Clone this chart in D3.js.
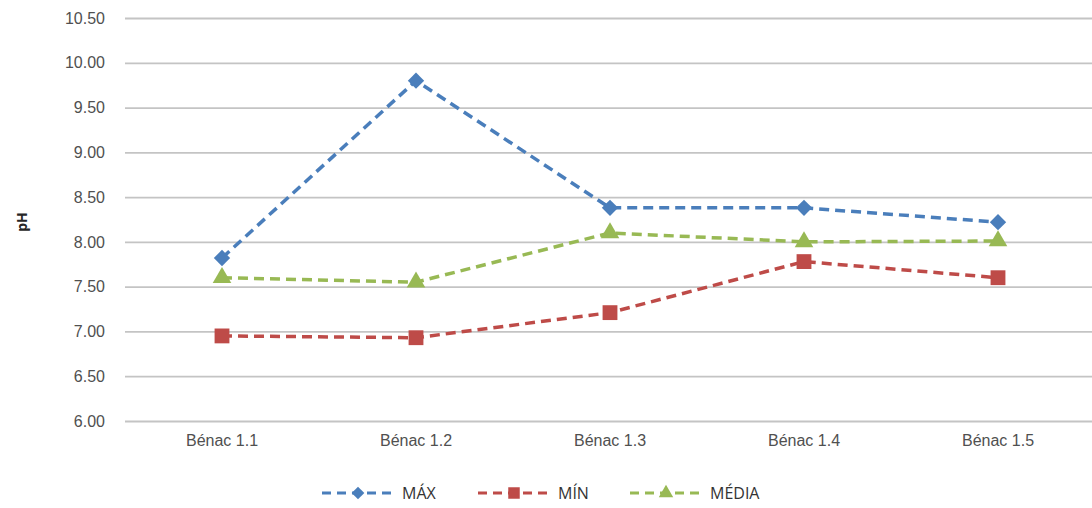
<!DOCTYPE html>
<html>
<head>
<meta charset="utf-8">
<script src="https://cdn.jsdelivr.net/npm/d3@7"></script>
<style>
  body { margin: 0; background: #fff; }
  svg { font-family: "Open Sans", "Liberation Sans", sans-serif; }
  .y-axis text, .x-axis text { fill: #505050; font-size: 16px; }
  .legend text { fill: #333; font-size: 16px; }
</style>
</head>
<body>
<svg width="1092" height="508"></svg>
<script>
const categories = ["Bénac 1.1", "Bénac 1.2", "Bénac 1.3", "Bénac 1.4", "Bénac 1.5"];
const maxValues = [7.82, 9.80, 8.38, 8.38, 8.22];
const minValues = [6.95, 6.93, 7.21, 7.78, 7.60];
const mediaValues = [7.60, 7.55, 8.10, 8.00, 8.01];
const yTicks = [6.0, 6.5, 7.0, 7.5, 8.0, 8.5, 9.0, 9.5, 10.0, 10.5];

const series = [
  { name: "MÁX", values: maxValues, color: "#4a7ebb", shape: d3.symbolDiamond2, size: 170 },
  { name: "MÍN", values: minValues, color: "#be4b48", shape: d3.symbolSquare, size: 220 },
  { name: "MÉDIA", values: mediaValues, color: "#98b954", shape: d3.symbolTriangle, size: 150 }
];

const svg = d3.select("svg");

const scaleX = d3.scaleBand().domain(categories).range([125, 1095]);
const scaleY = d3.scaleLinear().domain([6, 10.5]).range([421, 18]);

const axisY = d3.axisLeft(scaleY)
  .tickValues(yTicks)
  .tickSizeInner(-970)
  .tickSizeOuter(0)
  .tickPadding(20)
  .tickFormat(d3.format(".2f"));

const axisYGroup = svg.append("g")
  .attr("class", "y-axis")
  .attr("transform", "translate(125,0)")
  .call(axisY);
axisYGroup.select(".domain").remove();
axisYGroup.selectAll("line").attr("stroke", "#c4c4c4").attr("stroke-width", 1.8);

const axisX = d3.axisBottom(scaleX).tickSize(0).tickPadding(14);
const axisXGroup = svg.append("g")
  .attr("class", "x-axis")
  .attr("transform", "translate(0,421)")
  .call(axisX);
axisXGroup.select(".domain").remove();

svg.append("text")
  .attr("transform", "translate(27,222) rotate(-90)")
  .attr("text-anchor", "middle")
  .attr("font-size", 14)
  .attr("font-weight", "bold")
  .attr("fill", "#262626")
  .text("pH");

const line = d3.line()
  .x((d, i) => scaleX(categories[i]) + scaleX.bandwidth() / 2)
  .y(d => scaleY(d));

series.forEach(s => {
  svg.append("path")
    .datum(s.values)
    .attr("fill", "none")
    .attr("stroke", s.color)
    .attr("stroke-width", 3.5)
    .attr("stroke-dasharray", "10,6")
    .attr("d", line);

  svg.selectAll(null)
    .data(s.values)
    .enter()
    .append("path")
    .attr("transform", (d, i) => `translate(${scaleX(categories[i]) + scaleX.bandwidth() / 2},${scaleY(d)})`)
    .attr("d", d3.symbol().type(s.shape).size(s.size))
    .attr("fill", s.color);
});

const legendX = [322, 478, 630];
const legend = svg.append("g").attr("class", "legend");
series.forEach((s, i) => {
  const g = legend.append("g").attr("transform", `translate(${legendX[i]},493)`);
  g.append("line")
    .attr("x1", 0).attr("x2", 72)
    .attr("stroke", s.color)
    .attr("stroke-width", 3)
    .attr("stroke-dasharray", "9,6");
  g.append("path")
    .attr("transform", "translate(36,0)")
    .attr("d", d3.symbol().type(s.shape).size(s.size * 0.6))
    .attr("fill", s.color);
  g.append("text")
    .attr("x", 80)
    .attr("y", 6)
    .text(s.name);
});
</script>
</body>
</html>
